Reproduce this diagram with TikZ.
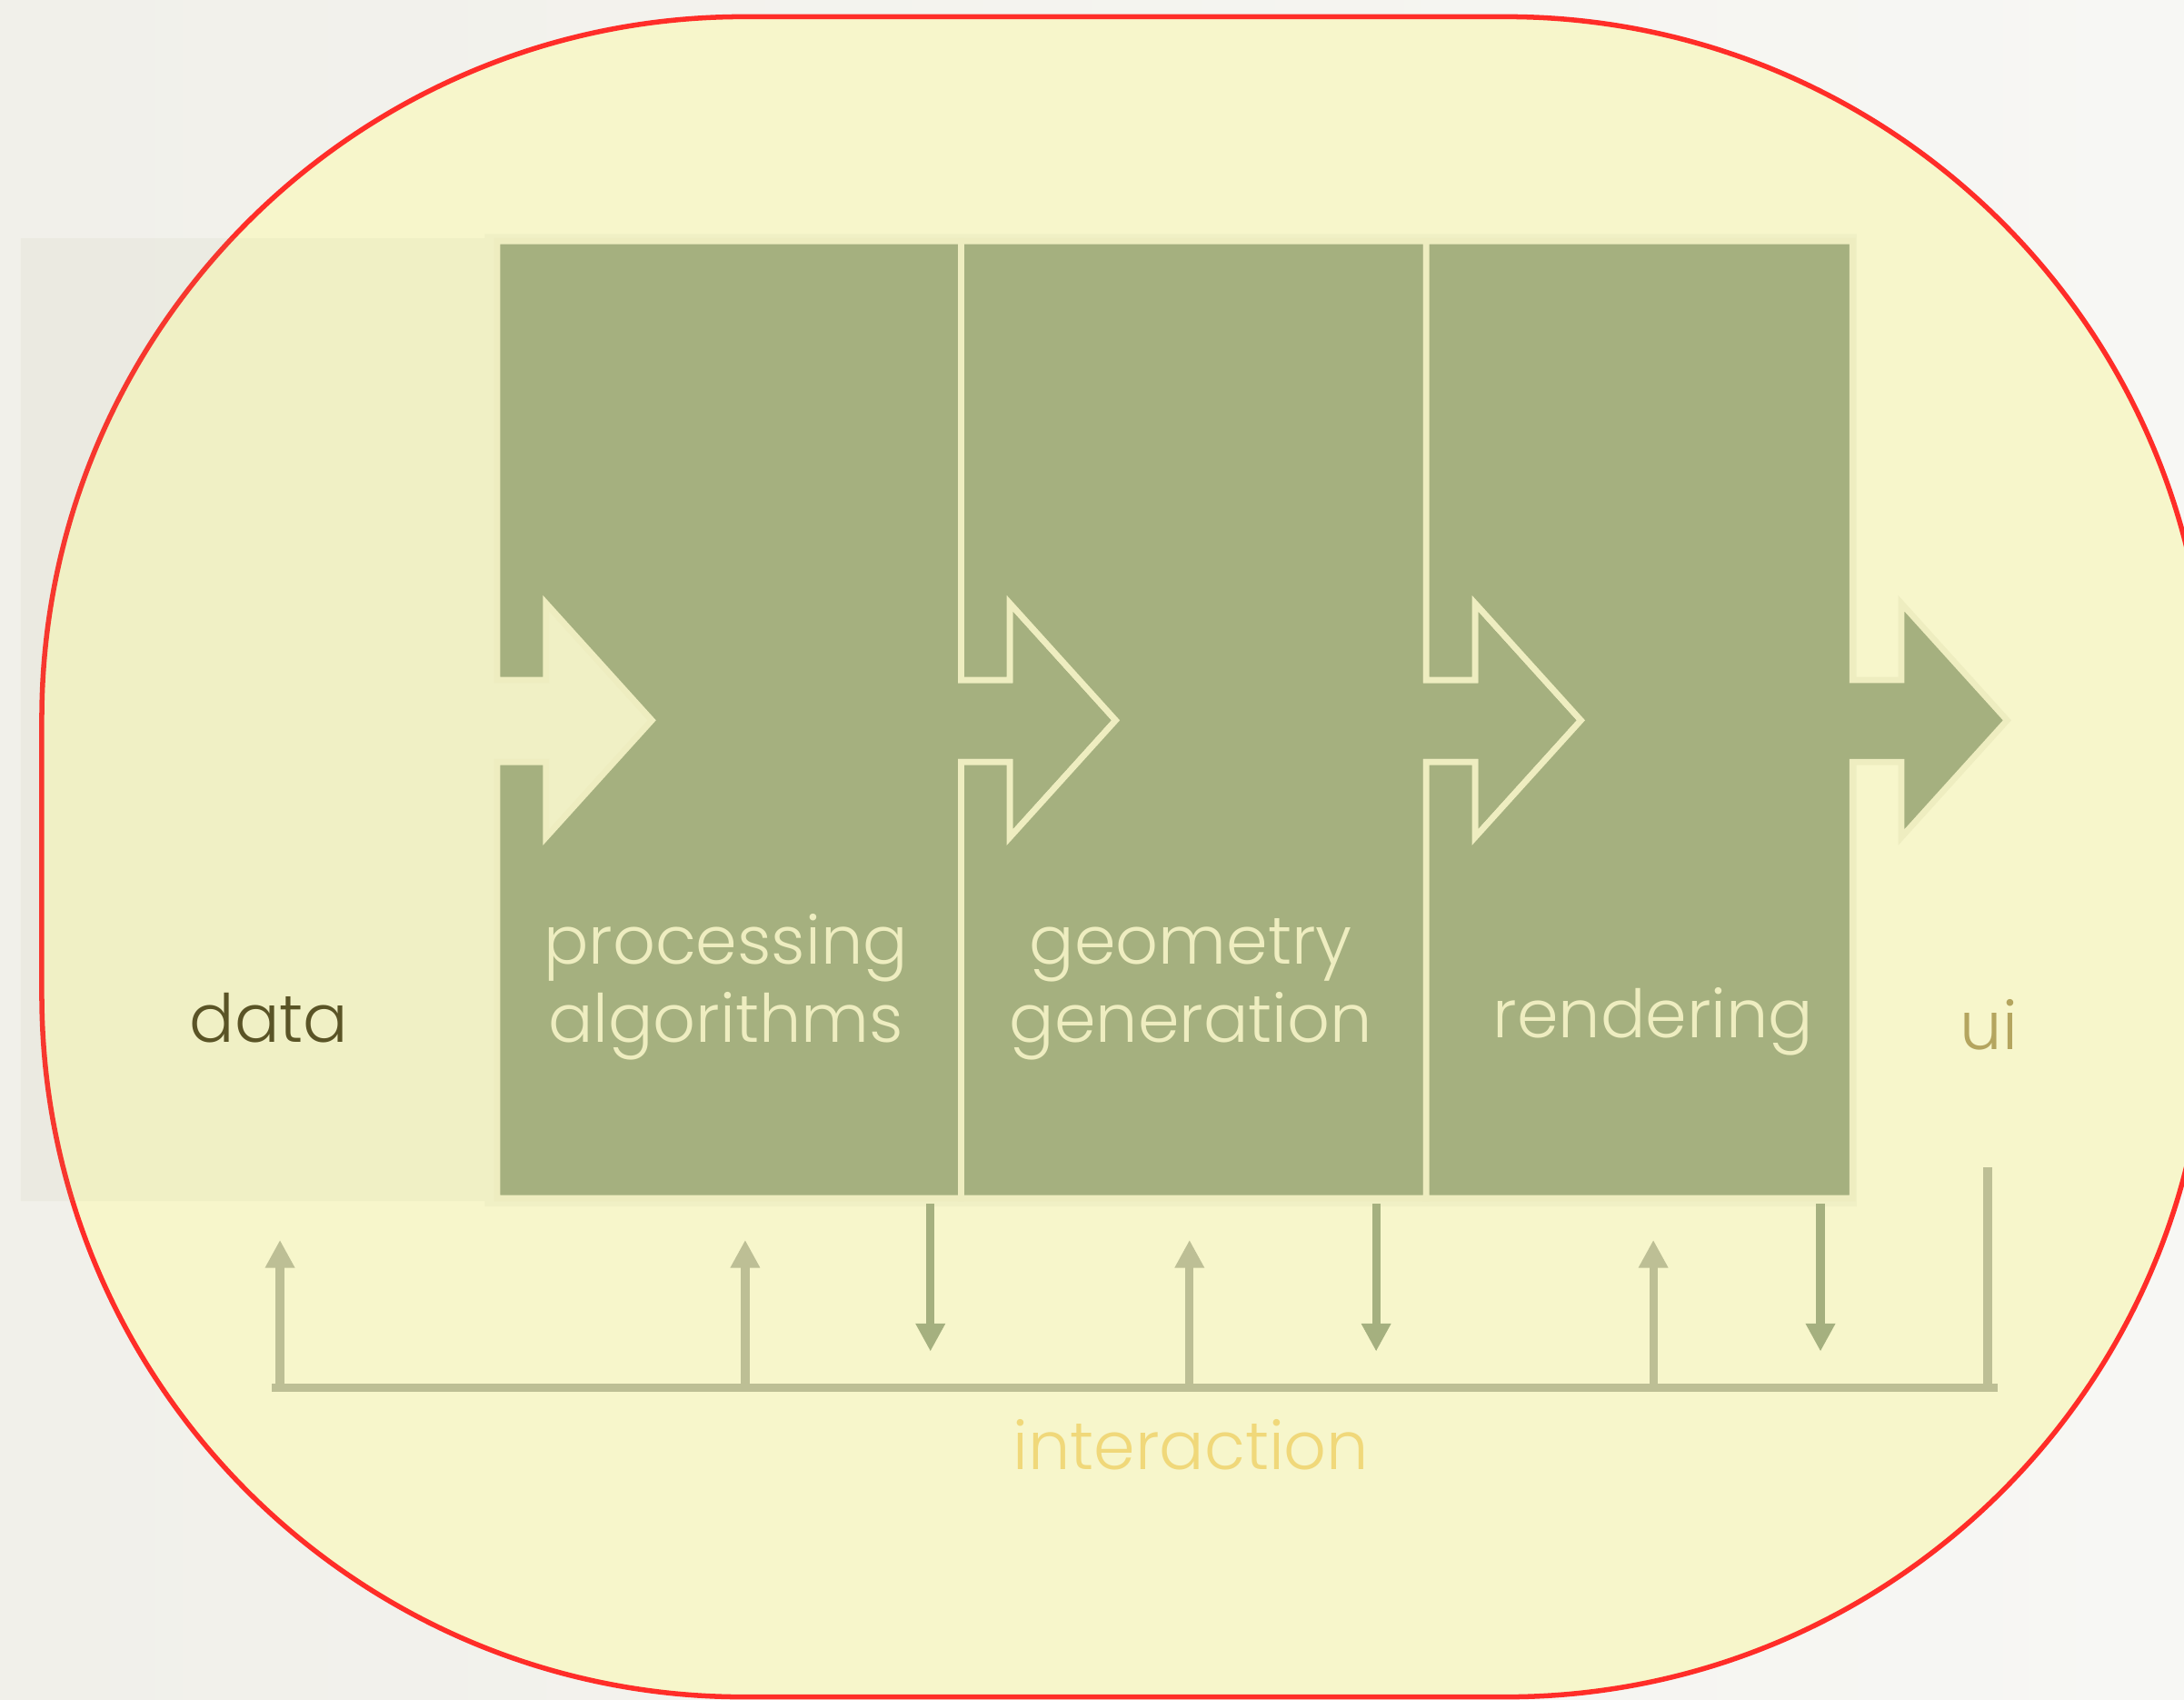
\documentclass[tikz,border=0pt]{standalone}
\usepackage{fontspec}
\setmainfont{Poppins}[UprightFont=* Light]
\usetikzlibrary{arrows.meta}

\definecolor{bgl}{RGB}{241,240,234}
\definecolor{bgr}{RGB}{247,247,244}
\definecolor{pill}{RGB}{247,246,203}
\definecolor{rim}{RGB}{255,45,40}
\definecolor{olive}{RGB}{165,176,127}
\definecolor{frame}{RGB}{238,237,192}
\definecolor{busc}{RGB}{189,191,149}
\definecolor{datac}{RGB}{90,84,38}
\definecolor{uic}{RGB}{180,165,95}
\definecolor{interc}{RGB}{240,216,122}

\begin{document}
\begin{tikzpicture}[x=0.25mm,y=-0.25mm,
  box/.style={fill=olive, draw=frame, line width=1.1mm, line join=miter},
  lbl/.style={font=\fontsize{34}{40}\selectfont, align=center, anchor=base},
  up/.style={draw=busc, line width=1.5mm, -{Triangle[length=5mm,width=5mm]}},
  down/.style={draw=olive, line width=1.5mm, -{Triangle[length=5mm,width=5mm]}}]
   \useasboundingbox (0,0) rectangle (1568,1220);
   \clip (0,0) rectangle (1568,1220);
   \shade[left color=bgl, right color=bgr] (0,0) rectangle (1568,1220);
   % outer pill
   \draw[fill=pill, draw=rim, line width=0.9mm, rounded corners=126mm] (30,12) rectangle (1585,1218);
   % data area and frame round the stages
   \fill[olive, opacity=.08] (15,171) rectangle (350,862) (348,168) rectangle (1333,866);
   % stages
   \foreach \a/\b in {357/690, 690/1024, 1024/1330}
     \draw[box] (\a,173) -- (\b,173) -- (\b,488) -- (\b+35,488) -- (\b+35,433) -- (\b+111,517)
       -- (\b+35,601) -- (\b+35,547) -- (\b,547) -- (\b,860) -- (\a,860) -- (\a,547)
       -- (\a+35,547) -- (\a+35,601) -- (\a+111,517) -- (\a+35,433) -- (\a+35,488) -- (\a,488) -- cycle;
   \node[lbl, text=datac] (data) at (193,748) {data};
   \node[lbl, text=frame] (proc) at (521,748) {processing\\algorithms};
   \node[lbl, text=frame] (geom) at (855,748) {geometry\\generation};
   \node[lbl, text=frame] (rend) at (1187,745) {rendering};
   \node[lbl, text=uic] (ui) at (1428,753) {ui};
   \node[lbl, text=interc] (inter) at (855,1055) {interaction};
   % interaction bus
   \coordinate (b_0) at (195,996);
   \coordinate (b_5) at (1434,996);
   \coordinate (u_1) at (1427,838);
   \coordinate (u_2) at (1427,996);
   \draw[busc, line width=1.5mm] (b_0) -- (b_5) (u_1) -- (u_2);
   \foreach \x [count=\i] in {201,535,854,1187} {
     \coordinate (b_\i) at (\x,996);
     \coordinate (t_\i) at (\x,890);
     \draw[up] (b_\i) -- (t_\i);
   }
   \foreach \x [count=\i] in {668,988,1307} {
     \coordinate (s_\i) at (\x,864);
     \coordinate (e_\i) at (\x,970);
     \draw[down] (s_\i) -- (e_\i);
   }
\end{tikzpicture}
\end{document}
